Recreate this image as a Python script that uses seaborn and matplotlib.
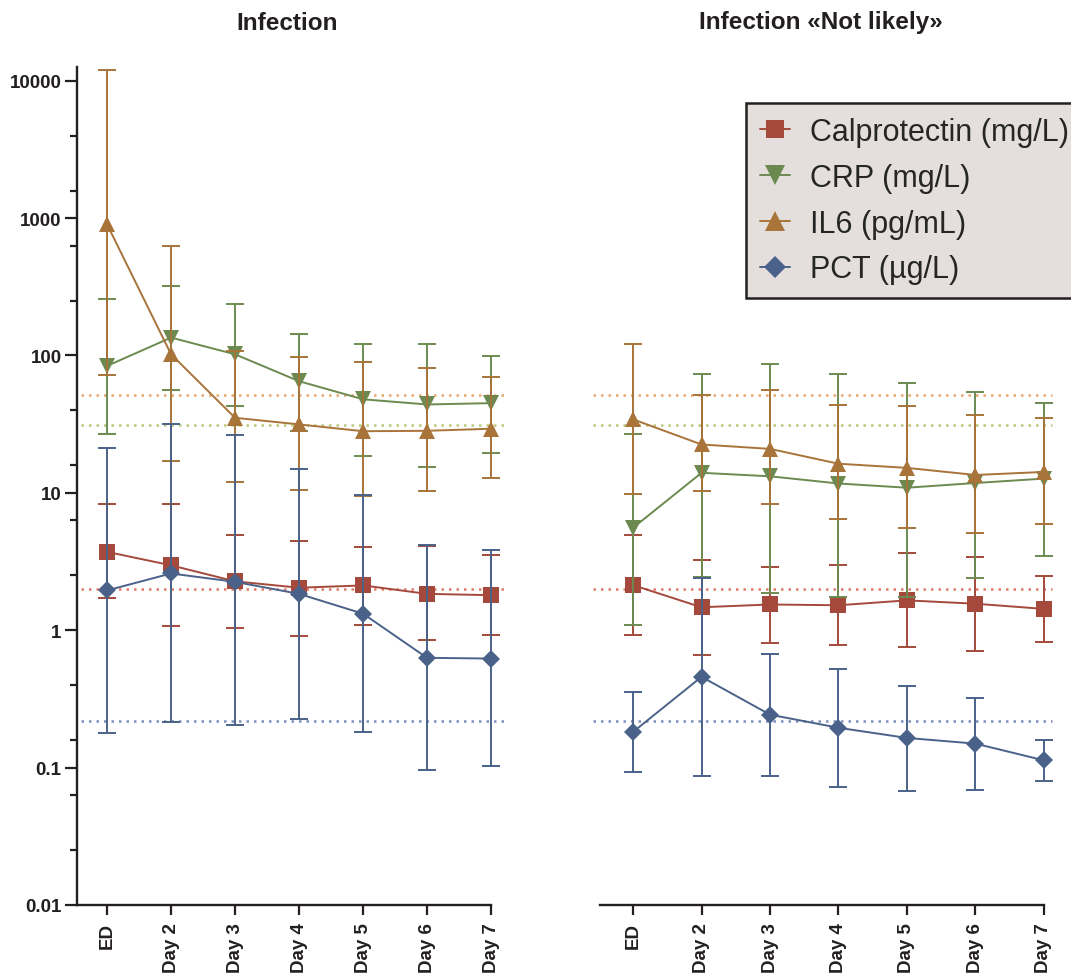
import numpy as np
import pandas as pd
import seaborn as sns
import matplotlib.pyplot as plt

# ---- data ----
days = ['ED', 'Day 2', 'Day 3', 'Day 4', 'Day 5', 'Day 6', 'Day 7']
series_names = ['Calprotectin (mg/L)', 'CRP (mg/L)', 'IL6 (pg/mL)', 'PCT (µg/L)']

# Infection
inf_calpro = [3.72, 2.97, 2.27, 2.04, 2.12, 1.84, 1.80]
inf_calpro_lo = [1.72, 1.07, 1.03, 0.915, 1.10, 0.855, 0.93]
inf_calpro_hi = [8.23, 8.33, 4.92, 4.45, 4.05, 4.09, 3.52]

inf_crp = [84, 135, 102, 65, 48, 44, 45]
inf_crp_lo = [26.6, 56, 42.8, 28.1, 18.5, 15.4, 19.4]
inf_crp_hi = [256, 319, 239, 143, 122, 122, 99.6]

inf_il6 = [901, 102, 35.2, 31.5, 28.1, 28.3, 29.3]
inf_il6_lo = [72, 17, 12.05, 10.5, 9.46, 10.3, 12.8]
inf_il6_hi = [11900, 623, 108, 98, 89, 81, 70]

inf_pct = [1.95, 2.59, 2.25, 1.84, 1.32, 0.63, 0.622]
inf_pct_lo = [0.179, 0.215, 0.203, 0.227, 0.182, 0.0955, 0.1035]
inf_pct_hi = [21.3, 31.9, 26.2, 15.0, 9.62, 4.14, 3.81]

# Infection "Not likely"
nl_calpro = [2.13, 1.47, 1.54, 1.52, 1.65, 1.56, 1.43]
nl_calpro_lo = [0.93, 0.665, 0.81, 0.778, 0.752, 0.711, 0.823]
nl_calpro_hi = [4.92, 3.27, 2.90, 3.01, 3.64, 3.42, 2.47]

nl_crp = [5.57, 14.0, 13.2, 11.7, 10.9, 11.8, 12.7]
nl_crp_lo = [1.10, 2.45, 1.87, 1.74, 1.74, 2.41, 3.50]
nl_crp_hi = [26.9, 73.7, 86, 72.8, 63.4, 54.5, 44.8]

nl_il6 = [34.3, 22.5, 20.9, 16.3, 15.2, 13.5, 14.2]
nl_il6_lo = [9.85, 10.4, 8.33, 6.4, 5.57, 5.12, 5.89]
nl_il6_hi = [122, 52, 55.7, 43.5, 42.8, 36.6, 35.0]

nl_pct = [0.182, 0.458, 0.243, 0.195, 0.1645, 0.1495, 0.113]
nl_pct_lo = [0.0924, 0.0865, 0.087, 0.0724, 0.068, 0.0685, 0.080]
nl_pct_hi = [0.353, 2.40, 0.676, 0.524, 0.396, 0.3235, 0.158]

# reference (cut-off) lines
ref_values = [2.0, 31, 52, 0.22]

# ---- styling ----
colors = ['#a4493b', '#6c8a4f', '#a8743a', '#4a6289']
ref_colors = ['#e27a68', '#b9c97c', '#e8a86e', '#8090bf']
marker_list = ['s', 'v', '^', 'D']
marker_sizes = [11.5, 12, 12, 9.5]
dark = '#231f20'

sns.set_style('ticks')
plt.rcParams['font.family'] = ['Liberation Sans', 'DejaVu Sans']

fig = plt.figure(figsize=(10.71, 9.78), dpi=100)
W, H = 1071, 978
ax_l = fig.add_axes([77 / W, 72 / H, 430 / W, 838 / H])
ax_r = fig.add_axes([592 / W, 72 / H, 469 / W, 838 / H])

x = np.arange(len(days))

panels = [
    (ax_l, [(inf_calpro, inf_calpro_lo, inf_calpro_hi),
            (inf_crp, inf_crp_lo, inf_crp_hi),
            (inf_il6, inf_il6_lo, inf_il6_hi),
            (inf_pct, inf_pct_lo, inf_pct_hi)], (-0.47, 6.25), (-0.40, 6.2), -0.47),
    (ax_r, [(nl_calpro, nl_calpro_lo, nl_calpro_hi),
            (nl_crp, nl_crp_lo, nl_crp_hi),
            (nl_il6, nl_il6_lo, nl_il6_hi),
            (nl_pct, nl_pct_lo, nl_pct_hi)], (-0.6, 6.25), (-0.58, 6.12), -0.48),
]

for ax, groups, xlim, reflim, spine_start in panels:
    ax.set_yscale('log')
    for i, (mean, lo, hi) in enumerate(groups):
        mean = np.array(mean)
        yerr = [mean - np.array(lo), np.array(hi) - mean]
        ax.errorbar(x, mean, yerr=yerr, fmt='none', ecolor=colors[i],
                    elinewidth=1.4, capsize=6.5, capthick=1.4, zorder=2 + i)
        df = pd.DataFrame({'day': x, 'value': mean})
        sns.lineplot(data=df, x='day', y='value', color=colors[i], marker=marker_list[i],
                     markersize=marker_sizes[i], markeredgewidth=0, linewidth=1.4,
                     label=series_names[i], legend=False, errorbar=None,
                     clip_on=False, zorder=2.5 + i, ax=ax)
    for v, c in zip(ref_values, ref_colors):
        ax.plot(reflim, [v, v], color=c, linewidth=1.8, dashes=(1, 2), zorder=1)

    ax.set_xlim(*xlim)
    ax.set_ylim(0.01, 10 ** 4.1)
    ax.set_xlabel('')
    ax.set_ylabel('')
    ax.set_xticks(x)
    ax.set_xticklabels(days, rotation=90, fontsize=13.5, fontweight='bold', color=dark)
    ax.tick_params(axis='x', length=7.5, width=1.6, color=dark, pad=5)
    ax.spines['top'].set_visible(False)
    ax.spines['right'].set_visible(False)
    ax.spines['bottom'].set_linewidth(1.7)
    ax.spines['bottom'].set_color(dark)
    ax.spines['bottom'].set_bounds(spine_start, 6)
    ax.grid(False)

# y axis on the left panel only (Prism style minor ticks every 0.4 decade)
major = [0.01, 0.1, 1, 10, 100, 1000, 10000]
major_labels = ['0.01', '0.1', '1', '10', '100', '1000', '10000']
minor = [10 ** e for e in np.arange(-2, 4.1, 0.4) if abs(e - round(e)) > 1e-6]
ax_l.set_yticks(major)
ax_l.set_yticklabels(major_labels, fontsize=13.5, fontweight='bold', color=dark)
ax_l.set_yticks(minor, minor=True)
ax_l.set_yticklabels([], minor=True)
ax_l.tick_params(axis='y', which='major', length=9, width=1.6, color=dark, pad=2)
ax_l.tick_params(axis='y', which='minor', length=5, width=1.6, color=dark)
ax_l.spines['left'].set_linewidth(1.7)
ax_l.spines['left'].set_color(dark)

ax_r.spines['left'].set_visible(False)
ax_r.tick_params(axis='y', which='both', left=False, labelleft=False)

# titles
for ax, title in [(ax_l, 'Infection'), (ax_r, 'Infection «Not likely»')]:
    pos = ax.get_position()
    fig.text((pos.x0 + pos.x1) / 2 - 0.005, 1 - 23 / H, title, ha='center', va='center',
             fontsize=17.5, fontweight='bold', color=dark)

# legend
handles, labels = ax_l.get_legend_handles_labels()
leg = fig.legend(handles, labels, loc='upper left', bbox_to_anchor=(746 / W, 1 - 104 / H),
                 bbox_transform=fig.transFigure, fontsize=22, frameon=True, fancybox=False,
                 handlelength=1.0, handletextpad=0.65, borderpad=0.45, labelspacing=0.52,
                 markerscale=1.15, borderaxespad=0)
leg.get_frame().set_facecolor('#e4dfdd')
leg.get_frame().set_edgecolor(dark)
leg.get_frame().set_linewidth(1.8)
leg.get_frame().set_alpha(1)

fig.savefig('out.png', dpi=100)
